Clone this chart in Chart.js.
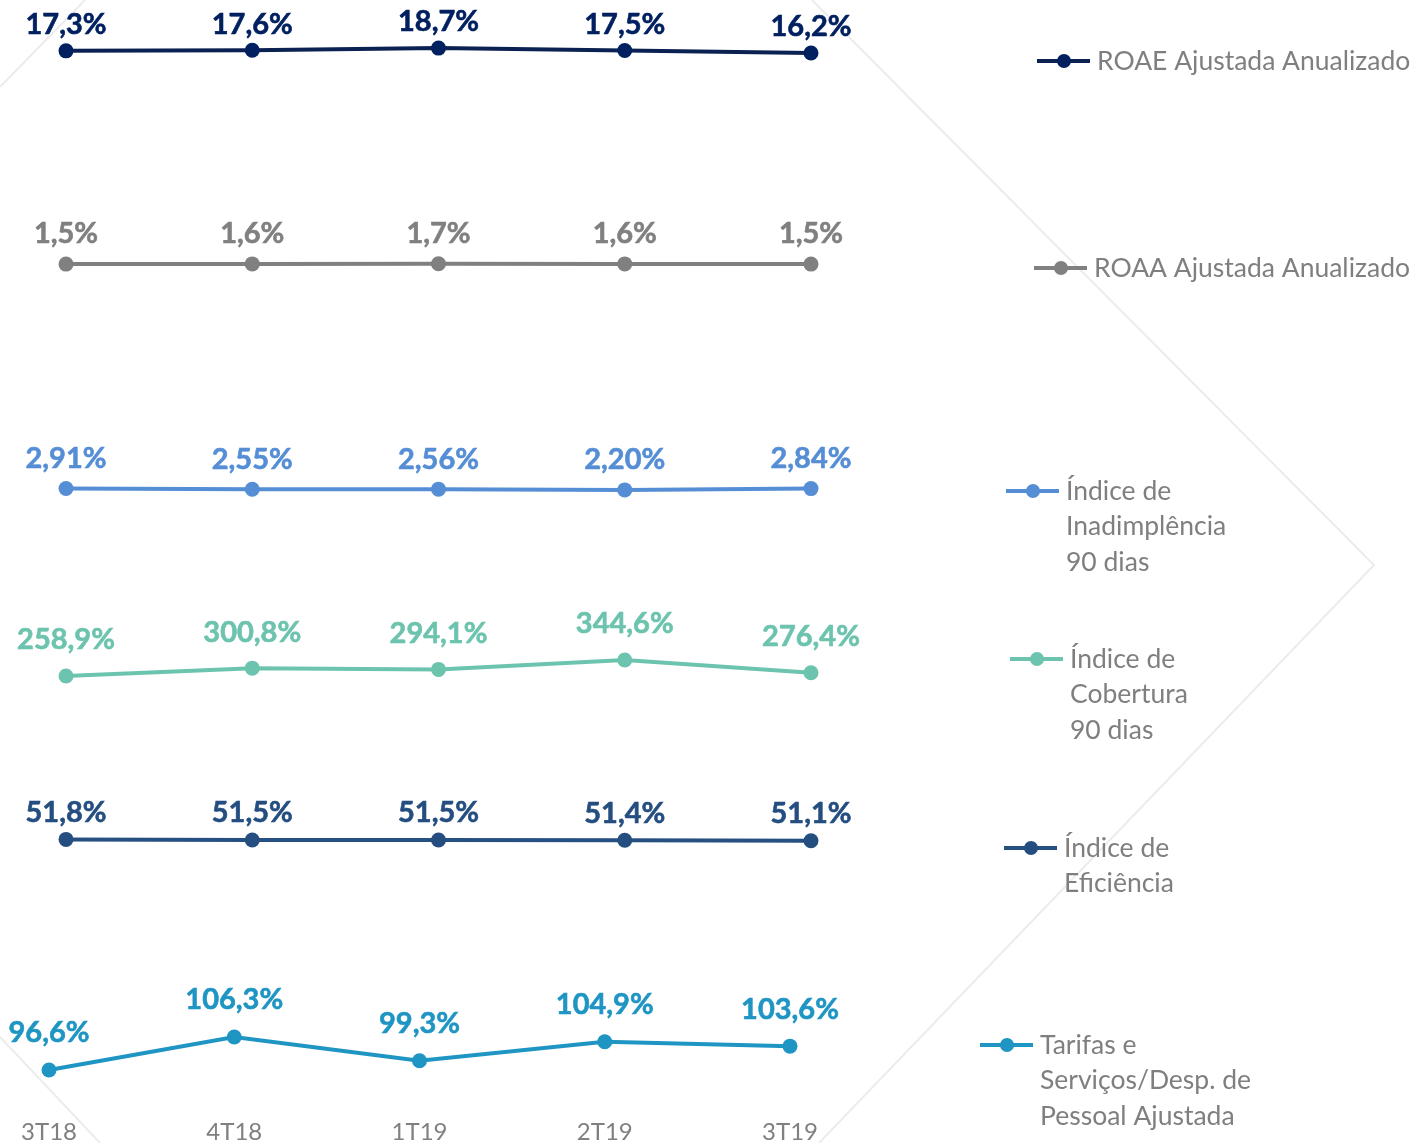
<!DOCTYPE html>
<html>
<head>
<meta charset="utf-8">
<script src="https://cdn.jsdelivr.net/npm/chart.js@4.4.1/dist/chart.umd.min.js"></script>
<style>
  body { margin: 0; background: #fff; }
  #wrap { position: relative; width: 1417px; height: 1143px; }
</style>
</head>
<body>
<div id="wrap"><canvas id="indicadores"></canvas></div>
<script>
// Dados
var quarters = ['3T18', '4T18', '1T19', '2T19', '3T19'];
var roae = [17.3, 17.6, 18.7, 17.5, 16.2];
var roaa = [1.5, 1.6, 1.7, 1.6, 1.5];
var inadimplencia = [2.91, 2.55, 2.56, 2.20, 2.84];
var cobertura = [258.9, 300.8, 294.1, 344.6, 276.4];
var eficiencia = [51.8, 51.5, 51.5, 51.4, 51.1];
var tarifas = [96.6, 106.3, 99.3, 104.9, 103.6];

var seriesNames = [
    ['ROAE Ajustada Anualizado'],
    ['ROAA Ajustada Anualizado'],
    ['Índice de', 'Inadimplência', '90 dias'],
    ['Índice de', 'Cobertura', '90 dias'],
    ['Índice de', 'Eficiência'],
    ['Tarifas e', 'Serviços/Desp. de', 'Pessoal Ajustada']
];
var decimals = [1, 1, 2, 1, 1, 1];

// legend spots (left end of marker line, first text line y)
var legendSpots = [
    { x: 1037, y: 61 }, { x: 1034, y: 268 }, { x: 1006, y: 491 },
    { x: 1010, y: 659 }, { x: 1004, y: 848 }, { x: 980, y: 1045 }
];

var colors = ['#0b2152', '#808080', '#558ed5', '#6cc3ae', '#264f82', '#1f95c3'];
var dotColors = ['#002060', '#808080', '#558ed5', '#6cc3ae', '#254e80', '#1f95c3'];
var labelGap = [26, 30, 30, 36, 27, 37];

function fmt(v, d) {
    return v.toFixed(d).replace('.', ',') + '%';
}

var hidden = {
    grid: { display: false, drawTicks: false },
    border: { display: false },
    ticks: { display: false }
};

function row(order, weight, min, max) {
    return Object.assign({
        type: 'linear', position: 'left', stack: 'rows', stackWeight: weight, weight: order,
        min: min, max: max
    }, hidden);
}

function ds(i, data, yId, xId) {
    return {
        label: seriesNames[i].join(' '),
        data: data.map(function (v, k) { return { x: k, y: v }; }),
        xAxisID: xId,
        yAxisID: yId,
        borderColor: colors[i],
        backgroundColor: dotColors[i],
        pointBackgroundColor: dotColors[i],
        pointBorderColor: dotColors[i],
        borderWidth: 4,
        pointRadius: 7.5,
        pointBorderWidth: 0,
        tension: 0,
        clip: false
    };
}

// Background chevrons
var backdrop = {
    id: 'backdrop',
    beforeDraw: function (chart) {
        var ctx = chart.ctx;
        ctx.save();
        ctx.strokeStyle = '#ececec';
        ctx.lineWidth = 2;
        ctx.beginPath();
        ctx.moveTo(812, 0); ctx.lineTo(1374, 565); ctx.lineTo(819, 1143);
        ctx.moveTo(0, 87); ctx.lineTo(85, 0);
        ctx.moveTo(0, 1037); ctx.lineTo(100, 1143);
        ctx.stroke();
        ctx.restore();
    }
};

// Value labels above the points
var valueLabels = {
    id: 'valueLabels',
    afterDatasetsDraw: function (chart) {
        var ctx = chart.ctx;
        ctx.save();
        ctx.font = 'bold 29px Lato';
        ctx.textAlign = 'center';
        ctx.textBaseline = 'middle';
        ctx.lineWidth = 0.6;
        chart.data.datasets.forEach(function (d, i) {
            var meta = chart.getDatasetMeta(i);
            ctx.fillStyle = dotColors[i];
            ctx.strokeStyle = dotColors[i];
            meta.data.forEach(function (pt, j) {
                var txt = fmt(d.data[j].y, decimals[i]);
                ctx.fillText(txt, pt.x, pt.y - labelGap[i]);
                ctx.strokeText(txt, pt.x, pt.y - labelGap[i]);
            });
        });
        ctx.restore();
    }
};

// Legend on the right
var sideLegend = {
    id: 'sideLegend',
    afterDraw: function (chart) {
        var ctx = chart.ctx;
        ctx.save();
        legendSpots.forEach(function (s, i) {
            ctx.strokeStyle = colors[i];
            ctx.lineWidth = 4;
            ctx.beginPath();
            ctx.moveTo(s.x, s.y); ctx.lineTo(s.x + 53, s.y);
            ctx.stroke();
            ctx.fillStyle = dotColors[i];
            ctx.beginPath();
            ctx.arc(s.x + 27, s.y, 7, 0, Math.PI * 2);
            ctx.fill();
            ctx.fillStyle = '#7f7f7f';
            ctx.font = '26.5px Lato';
            ctx.textAlign = 'left';
            ctx.textBaseline = 'middle';
            seriesNames[i].forEach(function (line, k) {
                ctx.fillText(line, s.x + 60, s.y + k * 35.5);
            });
        });
        ctx.restore();
    }
};

var chart = new Chart(document.getElementById('indicadores'), {
    type: 'line',
    data: {
        datasets: [
            ds(0, roae, 'yRoae', 'xS'),
            ds(1, roaa, 'yRoaa', 'xS'),
            ds(2, inadimplencia, 'yInad', 'xS'),
            ds(3, cobertura, 'yCob', 'xS'),
            ds(4, eficiencia, 'yEf', 'xS'),
            ds(5, tarifas, 'yTar', 'x')
        ]
    },
    options: {
        responsive: true,
        maintainAspectRatio: false,
        animation: false,
        layout: { padding: { left: 20, right: 577, top: 0, bottom: -9 } },
        plugins: { legend: { display: false }, tooltip: { enabled: false } },
        scales: {
            x: {
                type: 'linear', position: 'bottom', min: -0.1566, max: 4.2699, weight: 2,
                grid: { display: false, drawTicks: false }, border: { display: false },
                ticks: {
                    stepSize: 1, includeBounds: false, maxRotation: 0, autoSkip: false,
                    color: '#808080', font: { family: 'Lato', size: 24, lineHeight: 1 }, padding: 8,
                    callback: function (v) { return quarters[v]; }
                }
            },
            xS: Object.assign({ type: 'linear', position: 'bottom', min: -0.2470, max: 4.1557, weight: 1 }, hidden),
            yRoae: row(6, 153.5, -37.8, 39.0),
            yRoaa: row(5, 210, -49.4, 50.6),
            yInad: row(4, 205, -39.8, 60.2),
            yCob: row(3, 175, -142.8, 794.2),
            yEf: row(2, 190, -1.66, 98.34),
            yTar: row(1, 171, 84.25, 134.5)
        }
    },
    plugins: [backdrop, valueLabels, sideLegend]
});
</script>
</body>
</html>
